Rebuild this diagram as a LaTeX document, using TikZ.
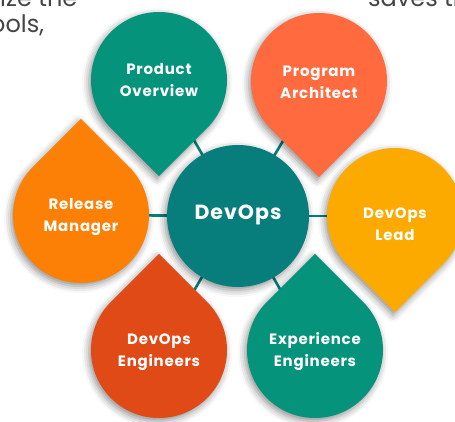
\documentclass[tikz,border=0pt]{standalone}
\usepackage{fontspec}
\newfontfamily\lab{Poppins}[LetterSpace=5]
\newfontfamily\bgf{Poppins}
\usetikzlibrary{shadows.blur,calc}
\definecolor{cteal}{HTML}{05937B}
\definecolor{ccenter}{HTML}{077E7C}
\definecolor{cpa}{HTML}{FF6B3F}
\definecolor{crm}{HTML}{FB8005}
\definecolor{cdl}{HTML}{FCAA00}
\definecolor{cde}{HTML}{E04A17}
\definecolor{cbg}{HTML}{444444}
\tikzset{
  shad/.style={blur shadow={shadow xshift=-2pt,shadow yshift=-3pt,shadow blur radius=7pt,shadow opacity=45}},
  lbl/.style={text=white,font=\lab\bfseries\fontsize{15}{22}\selectfont,align=center},
  conn/.style={draw=ccenter,line width=2.6pt},
  bgtext/.style={text=cbg,font=\bgf\fontsize{24}{26}\selectfont,anchor=base west,inner sep=0pt}
}
\newcommand{\drop}[3]{% center, angle, color
  \fill[#3,shad] ($(#1)+(#2:96.17pt)$) -- ($(#1)+(#2+45:68pt)$) arc[start angle=#2+45,end angle=#2+315,radius=68pt] -- cycle;
}
\begin{document}
\begin{tikzpicture}[x=1pt,y=1pt]
\useasboundingbox (0,0) rectangle (455,421);
\begin{scope}
\clip (0,0) rectangle (455,421);
\node[bgtext] (t1) at (0,414) {ize the};
\node[bgtext] (t2) at (-10,388) {ools,};
\node[bgtext] (t3) at (368,414) {saves ti};
% centers
\coordinate (po) at (159,341);
\coordinate (pa) at (319,340);
\coordinate (rm) at (81,206);
\coordinate (dl) at (395,205);
\coordinate (de) at (159,71);
\coordinate (ee) at (315,71);
\coordinate (c) at (238,205);
% connectors
\foreach \p in {po,pa,rm,dl,de,ee} \draw[conn] (\p) -- (c);
% drops
\drop{po}{-90}{cteal}
\drop{pa}{-90}{cpa}
\drop{rm}{90}{crm}
\drop{dl}{-90}{cdl}
\drop{de}{90}{cde}
\drop{ee}{90}{cteal}
\fill[ccenter,shad] (c) circle[radius=71pt];
\end{scope}
\node[lbl] (lpo) at (159,341) {Product\\Overview};
\node[lbl] (lpa) at (319,339) {Program\\Architect};
\node[lbl] (lrm) at (81,204) {Release\\Manager};
\node[lbl] (ldl) at (395,197) {DevOps\\Lead};
\node[lbl] (lde) at (159,69) {DevOps\\Engineers};
\node[lbl] (lee) at (315,69) {Experience\\Engineers};
\node[text=white,font=\lab\bfseries\fontsize{20.5}{22}\selectfont] (lc) at (238,206) {DevOps};
\end{tikzpicture}
\end{document}
